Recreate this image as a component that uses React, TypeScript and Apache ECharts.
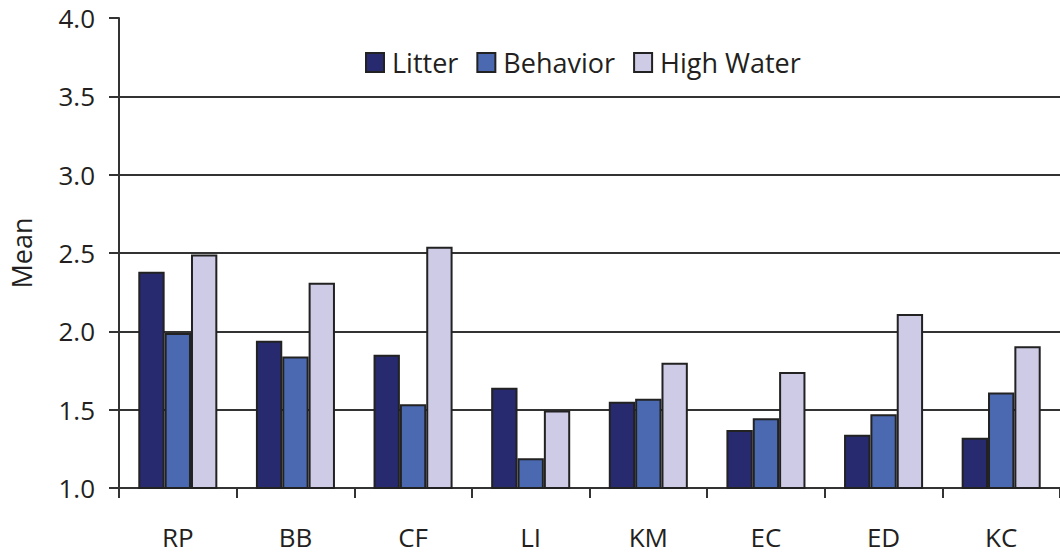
import React, { useEffect, useRef } from "react";
import * as echarts from "echarts";

const categories = ["RP", "BB", "CF", "LI", "KM", "EC", "ED", "KC"];
const litter = [2.38, 1.94, 1.85, 1.64, 1.55, 1.37, 1.34, 1.32];
const behavior = [1.99, 1.84, 1.535, 1.19, 1.57, 1.445, 1.47, 1.61];
const highWater = [2.49, 2.31, 2.54, 1.495, 1.8, 1.74, 2.11, 1.905];
const seriesNames = ["Litter", "Behavior", "High Water"];
const colors = ["#272a6f", "#4a69b0", "#cecbe6"];

const FONT = "'Open Sans', sans-serif";

export default function App() {
  const ref = useRef<HTMLDivElement>(null);
  useEffect(() => {
    document.body.style.margin = "0";
    const chart = echarts.init(ref.current!, undefined, { renderer: "svg" });
    const data = [litter, behavior, highWater];
    chart.setOption({
      animation: false,
      textStyle: { fontFamily: FONT },
      grid: { left: 116, right: -9, top: 18, bottom: 69 },
      legend: {
        left: 365,
        top: 49,
        padding: 0,
        itemWidth: 18,
        itemHeight: 19,
        itemGap: 18,
        icon: "rect",
        data: seriesNames,
        itemStyle: { borderColor: "#222", borderWidth: 2 },
        textStyle: { fontFamily: FONT, fontSize: 27, color: "#231f20", padding: [0, 0, 0, 3] },
      },
      xAxis: {
        type: "category",
        data: categories,
        axisLine: { lineStyle: { color: "#333", width: 2 } },
        axisTick: { show: true, length: 10, lineStyle: { color: "#333", width: 2 } },
        axisLabel: { fontFamily: FONT, fontSize: 26, color: "#231f20", margin: 36 },
      },
      yAxis: {
        type: "value",
        min: 1,
        max: 4,
        interval: 0.5,
        name: "Mean",
        nameLocation: "middle",
        nameGap: 84,
        nameRotate: 90,
        nameTextStyle: { fontFamily: FONT, fontSize: 27, color: "#231f20" },
        axisLine: { show: true, lineStyle: { color: "#333", width: 2 } },
        axisTick: { show: true, length: 10, lineStyle: { color: "#333", width: 2 } },
        axisLabel: {
          fontFamily: FONT,
          fontSize: 26,
          color: "#231f20",
          margin: 24,
          formatter: (v: number) => v.toFixed(1),
        },
        splitLine: { show: true, showMaxLine: false, lineStyle: { color: "#333", width: 2 } },
      },
      series: seriesNames.map((name, i) => ({
        name,
        type: "bar",
        data: data[i],
        barGap: "0%",
        barCategoryGap: "32.8%",
        itemStyle: { color: colors[i], borderColor: "#222", borderWidth: 2 },
      })),
    });
    return () => chart.dispose();
  }, []);
  return <div ref={ref} style={{ width: 1060, height: 557 }} />;
}
